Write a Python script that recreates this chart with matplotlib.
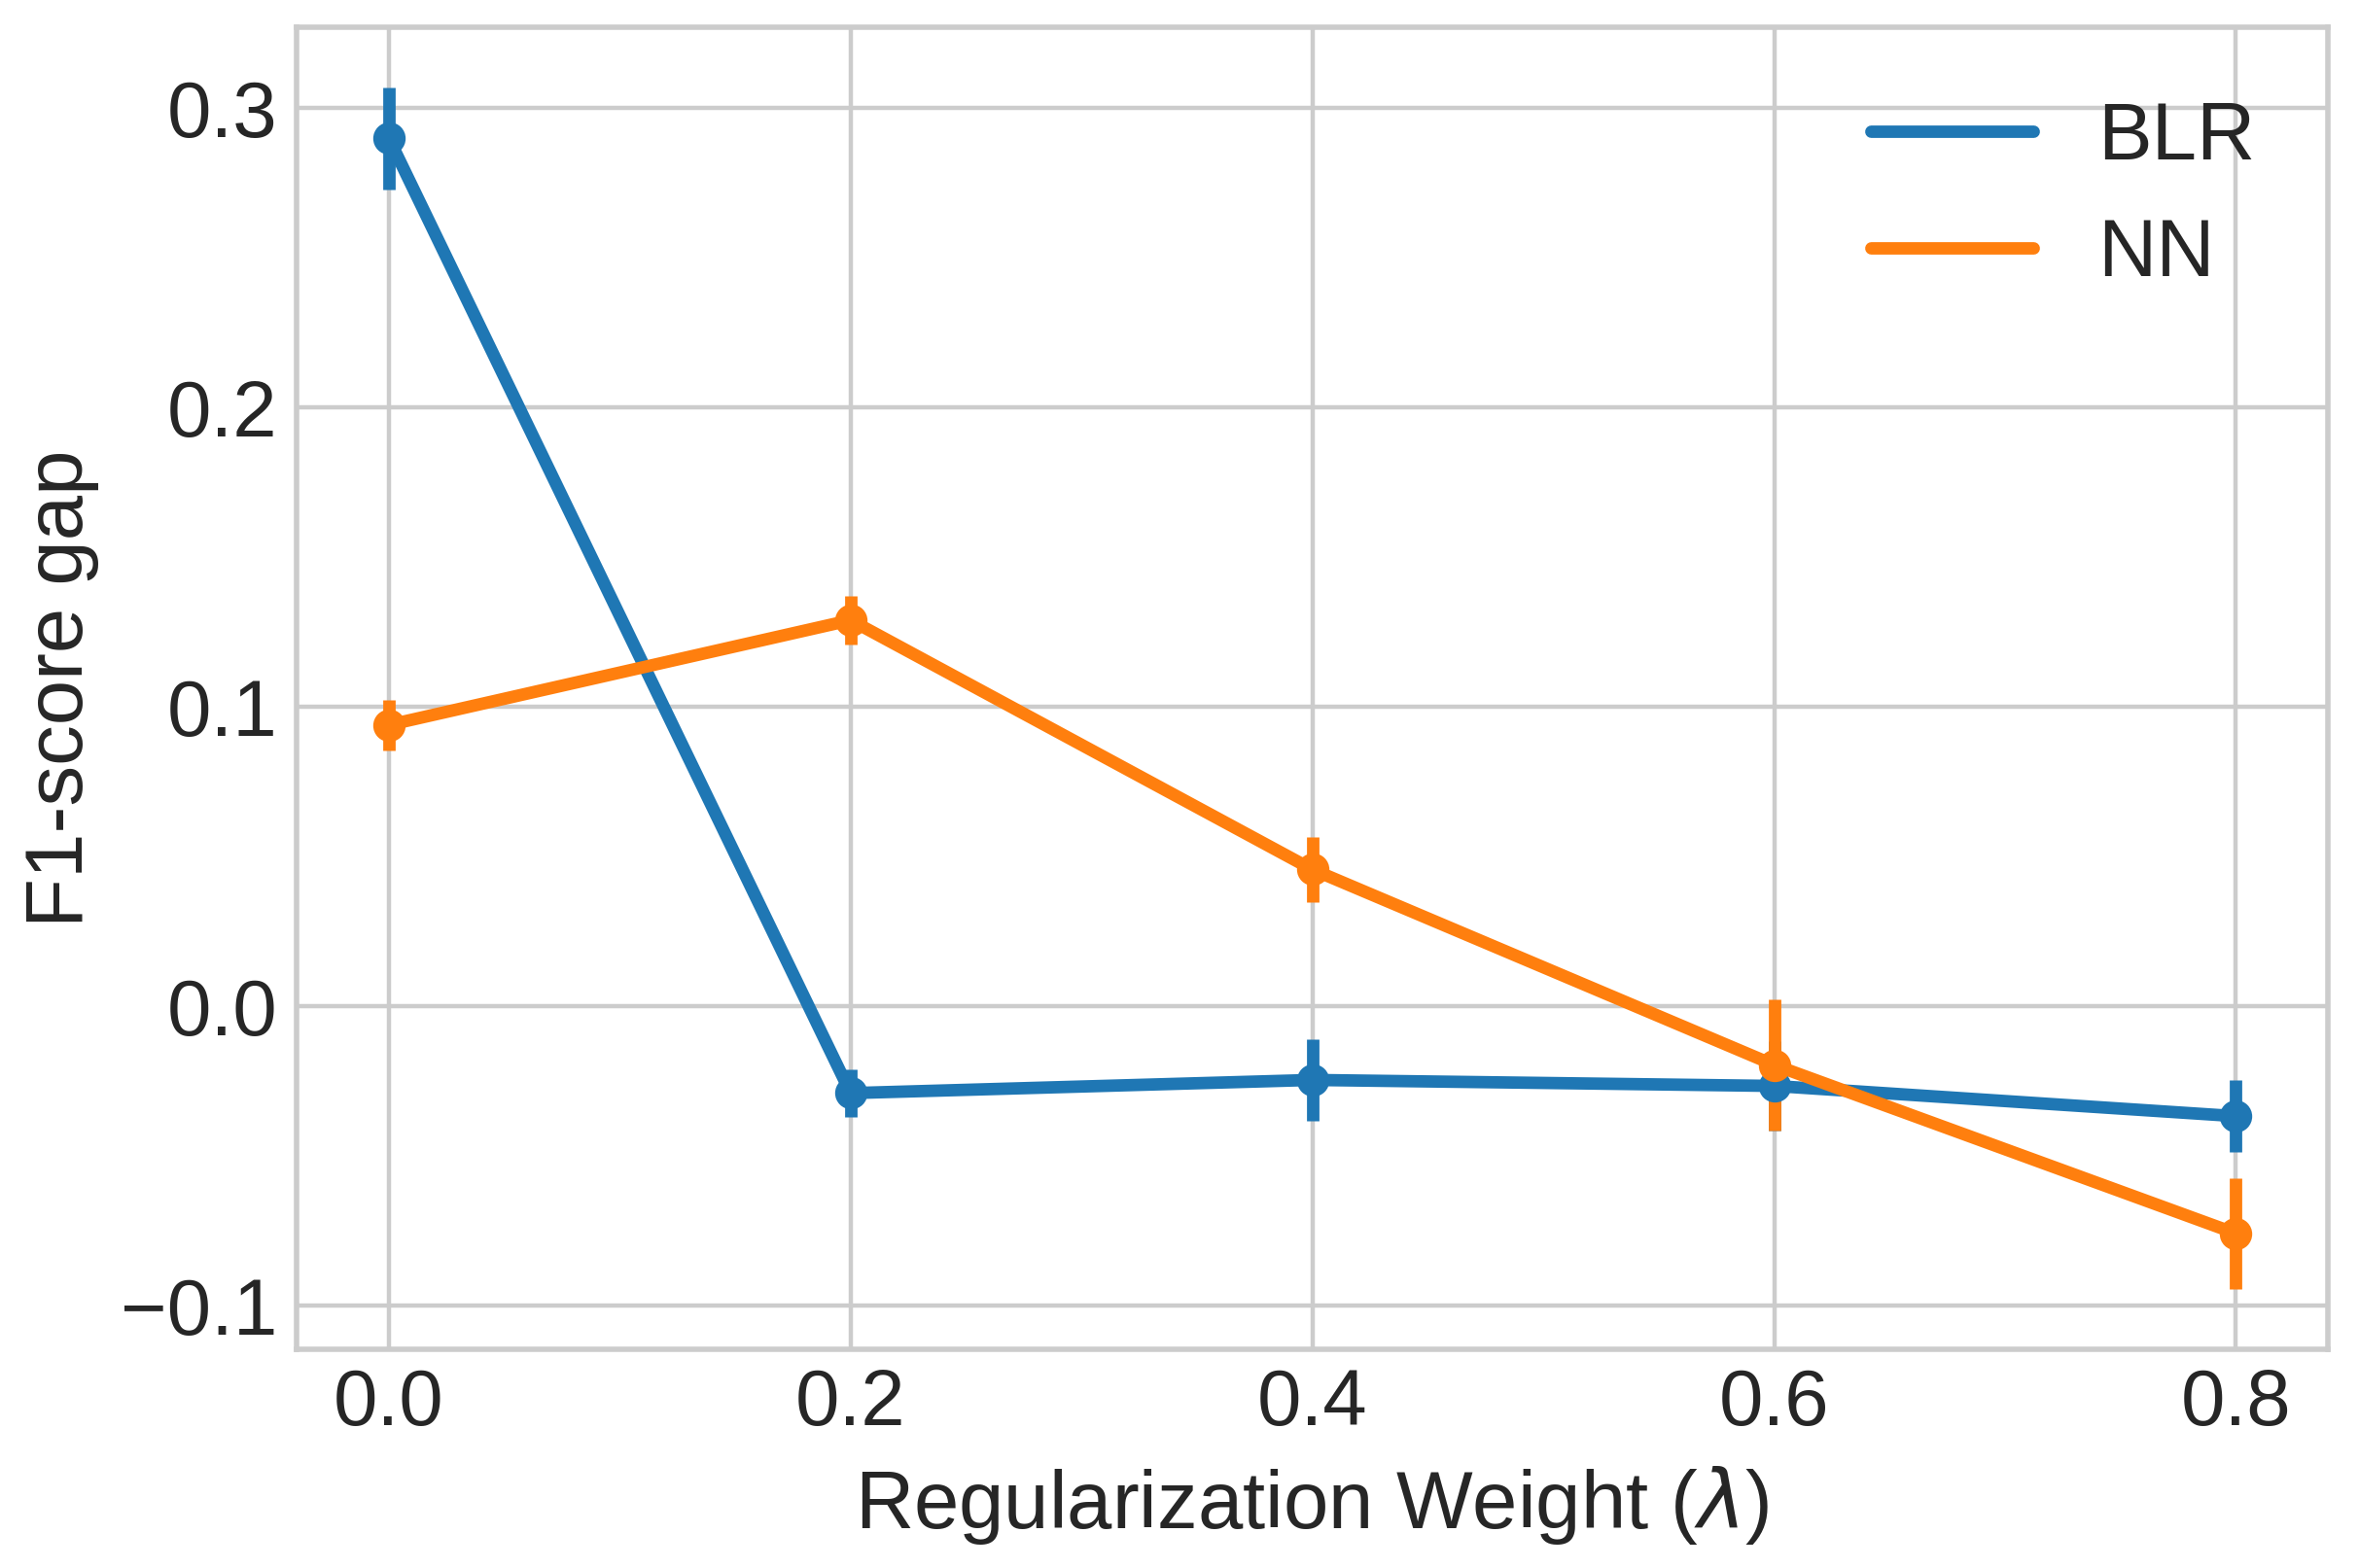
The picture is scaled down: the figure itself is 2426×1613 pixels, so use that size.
import numpy as np
from matplotlib import pyplot as plt

# regularization weights and F1-score gap (mean, error) per model
lam = [0.0, 0.2, 0.4, 0.6, 0.8]
blr_gap = [0.290, -0.029, -0.0246, -0.0266, -0.0367]
blr_err = [0.017, 0.008, 0.0135, 0.015, 0.012]
nn_gap = [0.094, 0.129, 0.0457, -0.0196, -0.0759]
nn_err = [0.0085, 0.008, 0.011, 0.0218, 0.0186]

plt.style.use("seaborn-v0_8-whitegrid")
plt.rcParams['font.family'] = ['Liberation Sans', 'DejaVu Sans']

fig = plt.figure(figsize=(2426 / 400, 1613 / 400), dpi=400)
ax: plt.Axes = fig.subplots()
fig.subplots_adjust(left=0.1257, right=0.987, top=0.9826, bottom=0.1395)

for name, gap, err, col in [("BLR", blr_gap, blr_err, "#1f77b4"), ("NN", nn_gap, nn_err, "#ff7f0e")]:
    ax.plot(lam, gap, color=col, lw=2.3, label=name)
    ax.errorbar(lam, gap, yerr=err, fmt="o", color=col, ms=5, elinewidth=2.3, capsize=0)

ax.set_xticks(lam)
ax.set_yticks([-0.1, 0.0, 0.1, 0.2, 0.3])
ax.tick_params(labelsize=14.7)
ax.set_xlabel(r"Regularization Weight ($\lambda$)", fontsize=15)
ax.set_ylabel("F1-score gap", fontsize=15)
ax.legend(fontsize=15, loc="upper right")

fig.savefig("out.png", dpi=400)
